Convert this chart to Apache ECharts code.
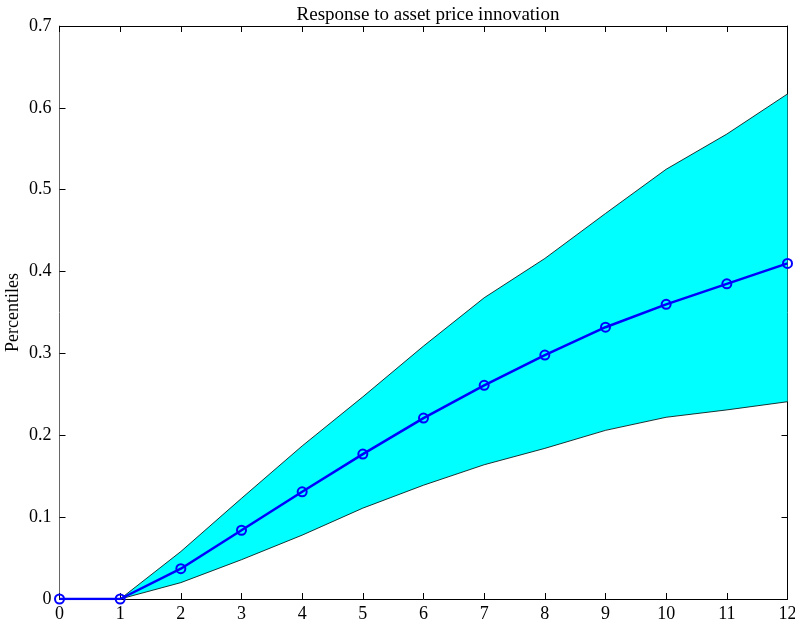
<!DOCTYPE html>
<html>
<head>
<meta charset="utf-8">
<script src="https://cdn.jsdelivr.net/npm/echarts@6/dist/echarts.min.js"></script>
<style>
html,body{margin:0;padding:0;background:#fff;}
#chart{width:795px;height:629px;}
</style>
</head>
<body>
<div id="chart"></div>
<script>
// Horizon (periods after the shock)
const horizons = ['0', '1', '2', '3', '4', '5', '6', '7', '8', '9', '10', '11', '12'];
// Median impulse response
const median = [0, 0, 0.037, 0.084, 0.131, 0.177, 0.221, 0.261, 0.298, 0.332, 0.360, 0.385, 0.410];
// Upper percentile bound
const upper = [0, 0, 0.058, 0.123, 0.187, 0.247, 0.309, 0.368, 0.416, 0.471, 0.525, 0.568, 0.617];
// Lower percentile bound
const lower = [0, 0, 0.020, 0.048, 0.078, 0.111, 0.139, 0.164, 0.184, 0.206, 0.222, 0.231, 0.241];
const yTicks = ['0', '0.1', '0.2', '0.3', '0.4', '0.5', '0.6', '0.7'];

const font = '"Liberation Serif", "Times New Roman", serif';
// Width of the percentile band, stacked on top of the lower bound
const bandWidth = upper.map((u, i) => +(u - lower[i]).toFixed(4));

const chart = echarts.init(document.getElementById('chart'), null, {renderer: 'canvas'});

const tick = {show: true, inside: true, length: 6, lineStyle: {color: '#000', width: 1}};

chart.setOption({
  animation: false,
  backgroundColor: '#fff',
  title: {
    text: 'Response to asset price innovation',
    left: 423, top: 1, textAlign: 'center',
    textStyle: {fontFamily: font, fontSize: 19, fontWeight: 'normal', color: '#000'}
  },
  grid: {left: 59.5, right: 7.5, top: 26, bottom: 30, containLabel: false, outerBoundsMode: 'none'},
  xAxis: [
    {
      type: 'category', data: horizons, boundaryGap: false, position: 'bottom',
      axisLine: {show: true, onZero: false, lineStyle: {color: '#000', width: 1}},
      axisTick: Object.assign({alignWithLabel: true}, tick),
      splitLine: {show: false},
      axisLabel: {fontFamily: font, fontSize: 18, color: '#000', margin: 6, interval: 0}
    },
    {
      type: 'category', data: horizons, boundaryGap: false, position: 'top',
      axisLine: {show: true, onZero: false, lineStyle: {color: '#000', width: 1}},
      axisTick: tick, splitLine: {show: false},
      axisLabel: {show: false}
    }
  ],
  yAxis: [
    {
      type: 'value', min: 0, max: 0.7, interval: 0.1, position: 'left',
      axisLine: {show: true, onZero: false, lineStyle: {color: '#666', width: 1}},
      axisTick: tick, splitLine: {show: false},
      name: 'Percentiles', nameLocation: 'middle', nameGap: 37, nameRotate: 90,
      nameMoveOverlap: false,
      nameTextStyle: {fontFamily: font, fontSize: 18, color: '#000'},
      axisLabel: {
        fontFamily: font, fontSize: 18, color: '#000', margin: 8,
        formatter: (v) => yTicks[Math.round(v * 10)]
      }
    },
    {
      type: 'value', min: 0, max: 0.7, interval: 0.1, position: 'right',
      axisLine: {show: true, onZero: false, lineStyle: {color: '#000', width: 1}},
      axisTick: tick, splitLine: {show: false},
      axisLabel: {show: false}
    }
  ],
  series: [
    {
      name: 'lower', type: 'line', data: lower, stack: 'band',
      symbol: 'none', lineStyle: {color: '#000', width: 0.8},
      silent: true, z: 1
    },
    {
      name: 'band', type: 'line', data: bandWidth, stack: 'band',
      symbol: 'none', lineStyle: {color: '#000', width: 0.8},
      areaStyle: {color: '#00ffff', opacity: 1},
      silent: true, z: 1
    },
    {
      name: 'median', type: 'line', data: median,
      symbol: 'circle', symbolSize: 9, showSymbol: true,
      itemStyle: {color: 'rgba(0,0,0,0)', borderColor: '#0000ff', borderWidth: 2},
      lineStyle: {color: '#0000ff', width: 2.5},
      z: 3
    }
  ]
});
</script>
</body>
</html>
